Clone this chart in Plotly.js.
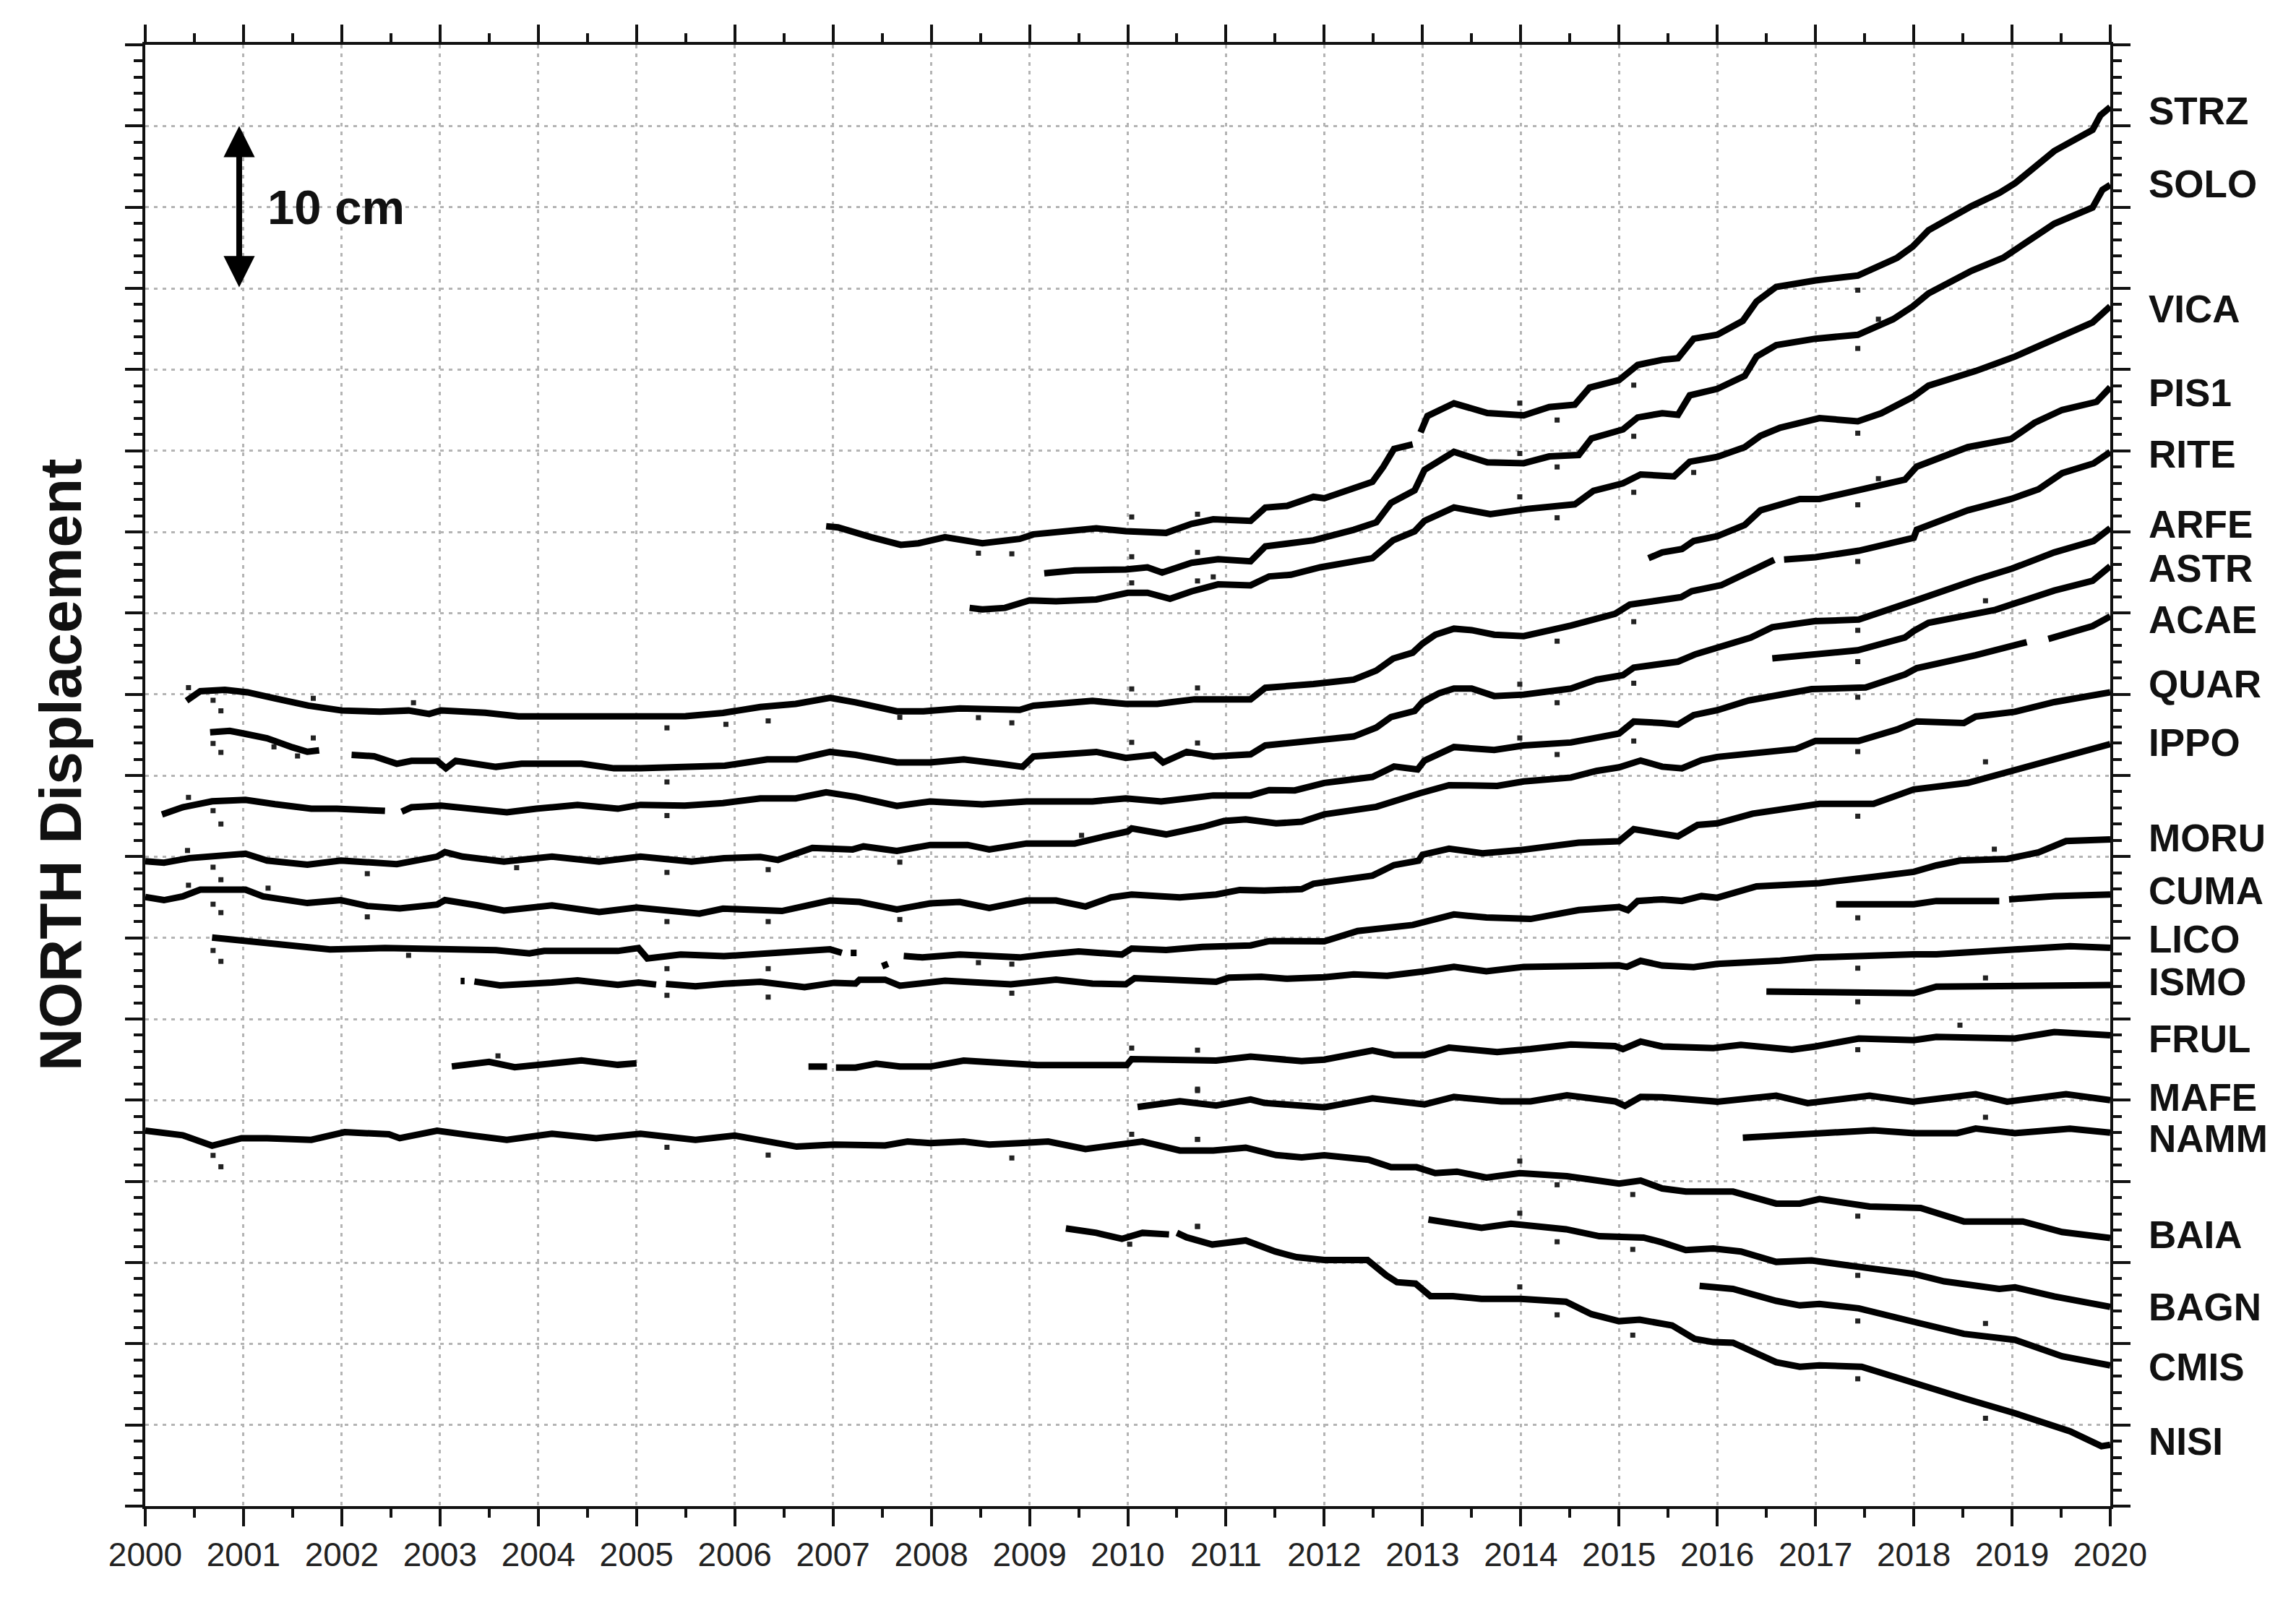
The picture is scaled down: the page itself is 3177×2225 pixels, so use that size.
<!DOCTYPE html>
<html>
<head>
<meta charset="utf-8">
<script src="https://cdn.plot.ly/plotly-3.0.1.min.js"></script>
<style>html,body{margin:0;padding:0;background:#fff}</style>
</head>
<body>
<div id="chart" style="width:3177px;height:2225px"></div>
<script>
// Every pair: [years since 2000, north displacement in cm, stacked offset as drawn]; null marks a data gap.
const STRZ=[[6.93,60.35],[7.05,60.28],[7.39,59.67],[7.69,59.2],[7.87,59.3],[7.95,59.39],[8.14,59.67],[8.52,59.3],[8.9,59.57],[9.04,59.85],[9.46,60.04],[9.68,60.22],[9.98,60.04],[10.39,59.94],[10.65,60.5],[10.87,60.78],[11.25,60.68],[11.4,61.5],[11.62,61.6],[11.89,62.16],[12,62.07],[12.49,63.08],[12.6,64],[12.71,65.11],[12.9,65.39],[12.94,null],[12.98,66.13],[13.05,67.14],[13.32,67.92],[13.66,67.32],[14.03,67.18],[14.29,67.69],[14.55,67.84],[14.7,68.89],[15,69.35],[15.19,70.28],[15.44,70.6],[15.6,70.7],[15.76,71.9],[16,72.14],[16.26,73],[16.4,74.19],[16.6,75.09],[17,75.49],[17.43,75.79],[17.83,76.88],[17.99,77.58],[18.15,78.58],[18.59,80.07],[18.87,80.87],[19.03,81.47],[19.43,83.46],[19.82,84.76],[19.9,85.66],[20,86.16]];
const SOLO=[[9.15,57.45],[9.46,57.63],[9.98,57.69],[10.2,57.82],[10.35,57.5],[10.65,58.1],[10.92,58.32],[11.25,58.19],[11.4,59.11],[11.89,59.48],[12.3,60.13],[12.53,60.59],[12.68,61.79],[12.92,62.56],[13.02,63.82],[13.32,64.93],[13.66,64.28],[14.03,64.23],[14.29,64.65],[14.59,64.74],[14.72,65.76],[15.04,66.31],[15.19,67.05],[15.44,67.31],[15.6,67.21],[15.72,68.41],[16,68.81],[16.28,69.61],[16.4,70.8],[16.6,71.5],[17,71.9],[17.43,72.14],[17.79,73.1],[17.99,73.89],[18.15,74.69],[18.59,76.09],[18.91,76.88],[19.11,77.68],[19.43,78.98],[19.82,79.98],[19.92,81.07],[20,81.37]];
const VICA=[[8.39,55.32],[8.52,55.23],[8.75,55.32],[9,55.78],[9.27,55.73],[9.68,55.84],[10,56.25],[10.2,56.25],[10.43,55.88],[10.65,56.34],[10.92,56.77],[11.25,56.71],[11.44,57.26],[11.66,57.36],[11.96,57.82],[12.49,58.38],[12.7,59.48],[12.92,60.04],[13.02,60.68],[13.32,61.51],[13.69,61.09],[14.07,61.42],[14.55,61.7],[14.74,62.53],[15.04,62.99],[15.22,63.54],[15.56,63.42],[15.72,64.32],[16,64.62],[16.28,65.22],[16.44,65.92],[16.64,66.42],[17.04,67.01],[17.43,66.81],[17.67,67.31],[17.99,68.31],[18.15,69.01],[18.63,69.91],[19.03,70.8],[19.43,71.9],[19.82,72.9],[20,73.89]];
const PIS1=[[15.3,58.38],[15.44,58.74],[15.64,58.94],[15.76,59.44],[16,59.74],[16.28,60.43],[16.44,61.33],[16.64,61.73],[16.84,62.03],[17.04,62.03],[17.43,62.53],[17.91,63.22],[18.03,64.02],[18.55,65.22],[18.99,65.72],[19.23,66.72],[19.51,67.51],[19.86,68.01],[20,68.91]];
const RITE=[[0.42,49.6],[0.56,50.19],[0.81,50.27],[1.04,50.12],[1.32,49.75],[1.66,49.3],[2,49],[2.39,48.93],[2.68,49],[2.89,48.79],[3.01,49],[3.46,48.86],[3.8,48.64],[4.27,48.64],[5,48.7],[5.5,48.65],[5.88,48.85],[6.26,49.22],[6.62,49.41],[6.97,49.78],[7.23,49.5],[7.65,48.95],[7.92,48.95],[8.29,49.13],[8.9,49.04],[9.04,49.3],[9.64,49.59],[9.98,49.41],[10.3,49.41],[10.68,49.69],[11.25,49.69],[11.4,50.4],[11.89,50.63],[12.3,50.9],[12.53,51.46],[12.7,52.2],[12.9,52.56],[13,53.12],[13.13,53.67],[13.32,54.04],[13.5,53.95],[13.73,53.67],[14.03,53.58],[14.51,54.23],[14.96,54.96],[15.11,55.52],[15.63,55.98],[15.74,56.35],[16.04,56.72],[16.34,57.64],[16.58,58.28],[16.62,null],[16.68,58.3],[17,58.44],[17.44,58.84],[18,59.64],[18.03,60.13],[18.55,61.33],[18.99,62.03],[19.27,62.63],[19.51,63.62],[19.83,64.22],[20,64.92]];
const ARFE=[[0.66,47.66],[0.86,47.75],[1.02,47.56],[1.24,47.29],[1.5,46.73],[1.65,46.46],[1.77,46.55],[1.9,null],[2.1,46.27],[2.33,46.18],[2.56,45.72],[2.71,45.9],[2.97,45.9],[3.06,45.44],[3.16,45.9],[3.57,45.53],[3.83,45.72],[4.44,45.72],[4.77,45.44],[5.04,45.44],[5.9,45.6],[6.33,45.99],[6.63,45.99],[6.97,46.45],[7.23,46.27],[7.65,45.8],[7.99,45.8],[8.33,45.99],[8.71,45.71],[8.93,45.53],[9.04,46.17],[9.46,46.36],[9.68,46.45],[9.98,46.08],[10.27,46.27],[10.36,45.8],[10.6,46.45],[10.87,46.17],[11.25,46.3],[11.4,46.85],[11.89,47.12],[12.3,47.4],[12.53,47.95],[12.68,48.6],[12.92,48.97],[13,49.52],[13.17,50.07],[13.32,50.35],[13.5,50.35],[13.73,49.89],[14.03,49.98],[14.51,50.35],[14.77,50.9],[15.04,51.18],[15.15,51.64],[15.6,52.01],[15.78,52.47],[16.04,52.93],[16.34,53.49],[16.56,54.13],[16.99,54.5],[17.44,54.6],[17.92,55.5],[18.03,55.8],[18.63,57.05],[19,57.74],[19.43,58.74],[19.83,59.44],[20,60.23]];
const ASTR=[[16.56,52.21],[17.43,52.71],[17.91,53.5],[18,53.9],[18.15,54.4],[18.83,55.2],[19.43,56.39],[19.82,56.99],[20,57.89]];
const ACAE=[[0.17,42.6],[0.38,43.04],[0.68,43.41],[1.02,43.5],[1.32,43.23],[1.69,42.95],[1.95,42.95],[2.44,42.82],[2.52,null],[2.61,42.77],[2.71,43.04],[3.01,43.14],[3.38,42.95],[3.68,42.73],[3.98,42.95],[4.4,43.19],[4.81,42.95],[5.04,43.19],[5.49,43.14],[5.88,43.3],[6.26,43.59],[6.62,43.59],[6.93,43.96],[7.23,43.68],[7.65,43.12],[7.99,43.4],[8.52,43.22],[8.97,43.4],[9.64,43.4],[9.98,43.59],[10.34,43.4],[10.87,43.77],[11.25,43.77],[11.44,44.1],[11.7,44.08],[12,44.54],[12.49,44.91],[12.71,45.55],[12.95,45.37],[13.02,45.92],[13.32,46.75],[13.73,46.57],[14.03,46.85],[14.51,47.03],[15,47.58],[15.11,48.04],[15.15,48.32],[15.44,48.23],[15.6,48.13],[15.76,48.72],[16,49.02],[16.32,49.62],[16.64,50.02],[16.96,50.32],[17.51,50.42],[17.91,51.22],[18.03,51.61],[18.63,52.41],[19.15,53.21],[19.26,null],[19.37,53.41],[19.82,54.2],[20,54.8]];
const QUAR=[[0,39.72],[0.19,39.63],[0.45,39.91],[1.02,40.18],[1.24,39.76],[1.65,39.5],[1.99,39.76],[2.56,39.54],[2.97,40],[3.05,40.28],[3.23,40],[3.65,39.69],[4.14,40],[4.62,39.69],[5.04,40],[5.56,39.69],[5.89,39.9],[6.26,39.98],[6.44,39.8],[6.79,40.54],[7.2,40.44],[7.31,40.63],[7.65,40.35],[7.99,40.72],[8.37,40.72],[8.59,40.44],[8.97,40.81],[9.46,40.81],[9.72,41.18],[10,41.55],[10.04,41.74],[10.39,41.37],[10.76,41.83],[10.98,42.2],[11.2,42.29],[11.51,42.05],[11.77,42.15],[12,42.6],[12.53,43.07],[12.71,43.43],[12.97,43.9],[13.27,44.4],[13.76,44.36],[14.03,44.63],[14.51,44.87],[14.77,45.28],[15,45.5],[15.22,45.92],[15.44,45.54],[15.64,45.44],[15.84,45.94],[16,46.14],[16.8,46.63],[17,47.13],[17.44,47.13],[17.83,47.83],[18.03,48.33],[18.51,48.23],[18.63,48.63],[19.03,48.92],[19.43,49.52],[20,50.12]];
const IPPO=[[0,37.51],[0.19,37.32],[0.38,37.55],[0.56,37.97],[1.02,37.97],[1.2,37.55],[1.65,37.14],[1.99,37.32],[2.26,36.96],[2.59,36.81],[2.97,37.05],[3.05,37.32],[3.38,37],[3.65,36.68],[4.14,37],[4.62,36.59],[5,36.86],[5.64,36.49],[5.88,36.8],[6.48,36.65],[6.97,37.3],[7.27,37.21],[7.65,36.75],[7.99,37.12],[8.29,37.21],[8.59,36.84],[8.97,37.3],[9.27,37.3],[9.57,36.93],[9.83,37.49],[10.04,37.67],[10.53,37.49],[10.9,37.67],[11.14,37.95],[11.39,37.91],[11.77,38],[11.89,38.33],[12.49,38.83],[12.71,39.48],[12.96,39.75],[13,40.12],[13.27,40.49],[13.61,40.21],[13.99,40.4],[14.59,40.86],[15,40.95],[15.15,41.69],[15.44,41.4],[15.6,41.25],[15.8,41.95],[16,42.05],[16.36,42.65],[17.04,43.25],[17.59,43.25],[18,44.14],[18.55,44.54],[18.91,45.14],[19.43,45.94],[20,46.93]];
const MORU=[[0.68,35.02],[1.13,34.74],[1.65,34.46],[1.88,34.28],[2.44,34.37],[2.97,34.28],[3.57,34.24],[3.91,34.04],[4.06,34.19],[4.81,34.19],[5.02,34.37],[5.11,33.73],[5.45,33.97],[5.89,33.87],[6.22,33.97],[6.56,34.16],[6.97,34.29],[7.09,34.07],[7.14,null],[7.18,34.07],[7.24,34.07],[7.3,null],[7.5,33.25],[7.56,33.4],[7.62,null],[7.72,33.88],[7.91,33.79],[8.29,33.97],[8.9,33.79],[9.16,33.97],[9.5,34.16],[9.94,33.97],[10.04,34.34],[10.39,34.25],[10.76,34.44],[11.25,34.53],[11.44,34.8],[12,34.78],[12.34,35.42],[12.9,35.79],[13.32,36.44],[13.65,36.25],[14.03,36.25],[14.1,36.16],[14.59,36.71],[15,36.9],[15.09,36.71],[15.19,37.27],[15.44,37.37],[15.64,37.27],[15.84,37.57],[16,37.47],[16.4,38.17],[17.04,38.37],[17.59,38.76],[18,39.06],[18.23,39.46],[18.47,39.76],[18.95,39.86],[19.27,40.26],[19.55,40.96],[20,41.06]];
const CUMA=[[17.21,37.07],[18,37.07],[18.23,37.27],[18.87,37.27],[18.92,null],[18.97,37.37],[19.43,37.57],[20,37.67]];
const LICO=[[3.21,32.34],[3.25,32.34],[3.29,null],[3.35,32.31],[3.61,32.07],[4.14,32.25],[4.4,32.38],[4.81,32.1],[5.02,32.25],[5.2,32.12],[5.25,null],[5.3,32.16],[5.6,32.01],[5.89,32.17],[6.26,32.29],[6.71,31.96],[7.01,32.23],[7.23,32.18],[7.27,32.42],[7.53,32.42],[7.68,32.05],[8.14,32.36],[8.52,32.29],[8.81,32.14],[9.27,32.42],[9.64,32.18],[9.98,32.14],[10.07,32.51],[10.45,32.42],[10.9,32.29],[11.03,32.55],[11.36,32.6],[11.62,32.48],[12,32.57],[12.3,32.75],[12.64,32.66],[13.02,32.94],[13.32,33.21],[13.65,32.94],[14.03,33.21],[15,33.3],[15.08,33.21],[15.22,33.58],[15.44,33.29],[15.76,33.19],[16,33.39],[16.64,33.59],[17,33.79],[18,33.98],[18.23,33.98],[19.03,34.28],[19.59,34.48],[20,34.38]];
const ISMO=[[16.5,31.69],[17.44,31.69],[18,31.59],[18.23,31.99],[19.03,31.99],[19.59,32.09],[20,32.09]];
const FRUL=[[3.12,27.08],[3.5,27.36],[3.76,27.03],[4.06,27.18],[4.44,27.45],[4.81,27.18],[5,27.27],[5.05,null],[6.75,27.07],[6.94,27.07],[6.98,null],[7.03,27.01],[7.23,27.01],[7.36,27.16],[7.44,27.25],[7.68,27.07],[7.99,27.07],[8.33,27.44],[8.9,27.25],[9.08,27.16],[9.64,27.16],[9.99,27.16],[10.04,27.53],[10.57,27.53],[10.9,27.44],[11.25,27.68],[11.39,27.6],[11.77,27.41],[12,27.5],[12.49,28.06],[12.71,27.78],[13.02,27.78],[13.27,28.24],[13.76,27.97],[14.1,28.15],[14.51,28.43],[14.96,28.33],[15.04,28.15],[15.22,28.61],[15.44,28.31],[15.96,28.21],[16.24,28.41],[16.76,28.11],[17,28.31],[17.44,28.8],[18,28.7],[18.23,28.9],[19.03,28.8],[19.43,29.2],[20,29]];
const MAFE=[[10.1,24.58],[10.53,24.94],[10.9,24.67],[11.25,25.04],[11.39,24.83],[12,24.56],[12.49,25.11],[13.02,24.74],[13.32,25.2],[13.8,24.93],[14.1,24.93],[14.47,25.3],[14.96,24.93],[15.06,24.65],[15.22,25.2],[15.44,25.18],[16,24.91],[16.6,25.28],[16.92,24.82],[17.55,25.28],[17.99,24.91],[18.63,25.37],[18.95,24.91],[19.55,25.37],[20,25]];
const NAMM=[[16.26,22.69],[16.84,22.88],[17.59,23.15],[18,22.97],[18.44,22.97],[18.63,23.25],[19.03,22.97],[19.59,23.25],[20,23]];
const BAIA=[[0,23.12],[0.38,22.84],[0.68,22.2],[0.98,22.66],[1.24,22.66],[1.69,22.56],[2.03,23.03],[2.48,22.9],[2.59,22.66],[2.97,23.12],[3.31,22.84],[3.68,22.56],[4.14,22.93],[4.59,22.66],[5.04,22.93],[5.6,22.56],[6,22.82],[6.26,22.55],[6.63,22.14],[7.01,22.27],[7.53,22.21],[7.76,22.45],[7.99,22.36],[8.33,22.45],[8.59,22.27],[8.9,22.36],[9.19,22.45],[9.57,21.99],[10,22.27],[10.15,22.45],[10.53,21.9],[10.87,21.9],[11.2,22.08],[11.51,21.62],[11.77,21.48],[12,21.61],[12.45,21.33],[12.68,20.87],[12.94,20.87],[13.13,20.51],[13.35,20.6],[13.65,20.23],[13.99,20.51],[14.47,20.32],[15,19.87],[15.22,20.05],[15.44,19.56],[15.68,19.37],[16.16,19.37],[16.6,18.63],[16.84,18.63],[17.04,18.91],[17.55,18.45],[18.07,18.36],[18.51,17.53],[19.11,17.53],[19.51,16.88],[20,16.51]];
const BAGN=[[13.06,17.65],[13.6,17.14],[13.9,17.39],[14.46,17.05],[14.8,16.62],[15.13,16.54],[15.25,16.54],[15.44,16.24],[15.68,15.77],[15.96,15.87],[16.24,15.68],[16.6,15.04],[16.96,15.13],[17.52,14.67],[18,14.3],[18.31,13.84],[18.87,13.38],[19.03,13.47],[19.43,12.91],[20,12.27]];
const CMIS=[[15.82,13.56],[16.16,13.38],[16.6,12.64],[16.84,12.36],[17.04,12.45],[17.44,12.18],[18,11.35],[18.51,10.61],[19.03,10.24],[19.51,9.23],[20,8.67]];
const NISI=[[9.37,17.1],[9.68,16.83],[9.94,16.46],[10.15,16.83],[10.42,16.73],[10.46,null],[10.5,16.83],[10.6,16.55],[10.86,16.11],[11.2,16.36],[11.5,15.68],[11.72,15.33],[12,15.16],[12.44,15.16],[12.63,14.22],[12.74,13.79],[12.93,13.7],[13.08,12.93],[13.31,12.93],[13.6,12.76],[14,12.76],[14.46,12.59],[14.72,11.82],[15,11.39],[15.21,11.48],[15.54,11.13],[15.77,10.3],[15.96,10.1],[16.16,10.06],[16.6,8.86],[16.84,8.58],[17.04,8.67],[17.47,8.58],[18,7.56],[18.51,6.64],[19.03,5.72],[19.59,4.61],[19.91,3.69],[20,3.78]];

// Isolated outlying daily solutions, read one by one.
const outliers=[[0.44,50.41],[0.69,49.63],[0.77,48.98],[1.71,49.75],[2.73,49.48],[0.69,46.97],[0.77,46.42],[1.71,47.31],[1.31,46.76],[1.55,46.2],[0.44,43.65],[0.69,42.83],[0.77,42.01],[0.43,40.38],[0.69,39.35],[0.77,38.58],[2.26,38.95],[3.78,39.32],[0.44,38.24],[0.69,37.07],[0.77,36.55],[2.26,36.29],[1.25,38.06],[0.69,34.22],[0.77,33.55],[2.68,33.92],[5.31,47.93],[5.31,44.6],[5.31,42.53],[5.31,39.03],[5.31,36],[5.31,33.1],[5.31,31.46],[5.31,22.1],[0.77,20.9],[0.69,21.6],[3.59,27.73],[6.34,48.36],[5.91,48.15],[7.68,48.58],[8.48,48.56],[8.82,48.24],[8.48,58.69],[8.82,58.65],[10.04,60.92],[10.71,61.09],[10.71,58.74],[10.04,58.47],[10.04,56.86],[10.71,56.98],[10.87,57.23],[10.04,50.33],[10.71,50.39],[10.04,47.04],[10.71,47],[6.34,39.2],[7.68,39.66],[6.34,36],[7.68,36.13],[9.53,41.31],[6.34,33.1],[8.48,33.47],[8.82,33.38],[13.99,67.93],[14.37,66.89],[15.15,69.04],[15.15,65.89],[13.99,64.83],[14.37,64],[15.15,62.44],[14.37,60.87],[13.99,62.16],[14.37,53.27],[15.15,54.47],[14.37,49.48],[15.15,50.68],[13.99,50.62],[14.37,46.29],[15.15,47.12],[13.99,47.31],[17.43,74.89],[17.43,71.3],[17.43,66.08],[17.43,61.67],[17.43,58.18],[17.64,73.1],[17.64,63.28],[15.76,63.66],[17.43,53.94],[17.43,52.01],[17.43,49.82],[17.43,46.47],[17.43,42.49],[18.73,55.76],[18.73,45.84],[17.43,36.23],[17.43,33.13],[17.43,31.06],[18.73,32.53],[18.47,29.62],[17.43,28.11],[18.82,40.46],[18.73,23.95],[17.43,17.86],[17.43,14.21],[17.43,11.4],[17.43,7.84],[18.73,11.25],[18.73,5.41],[6.34,31.35],[8.82,31.59],[6.34,21.62],[8.82,21.44],[10.71,25.59],[10.71,28.08],[10.71,22.58],[10.04,28.21],[10.04,22.9],[10.02,16.13],[10.71,17.23],[14.37,11.78],[14.37,16.28],[14.37,19.79],[15.14,19.19],[15.14,15.81],[15.14,10.53],[10.71,17.22],[10.71,22.59],[10.71,25.68],[13.99,21.25],[13.99,18.04],[13.99,13.5]];

const stationNames=["STRZ","SOLO","VICA","PIS1","RITE","ARFE","ASTR","ACAE","QUAR","IPPO","MORU","CUMA","LICO","ISMO","FRUL","MAFE","NAMM","BAIA","BAGN","CMIS","NISI"];
const stationSeries=[STRZ,SOLO,VICA,PIS1,RITE,ARFE,ASTR,ACAE,QUAR,IPPO,MORU,CUMA,LICO,ISMO,FRUL,MAFE,NAMM,BAIA,BAGN,CMIS,NISI];
const stationLabelY=[85.92,81.41,73.74,68.59,64.8,60.47,57.76,54.6,50.63,47.02,41.16,37.91,34.93,32.31,28.79,25.18,22.65,16.7,12.27,8.57,3.97];
const yearTicks=[2000,2001,2002,2003,2004,2005,2006,2007,2008,2009,2010,2011,2012,2013,2014,2015,2016,2017,2018,2019,2020];

const traces=stationSeries.map((s,i)=>({
  type:'scatter',mode:'lines',name:stationNames[i],
  x:s.map(p=>2000+p[0]),y:s.map(p=>p[1]),
  line:{color:'#000',width:9,shape:'linear'},connectgaps:false,hoverinfo:'skip',showlegend:false
}));
traces.push({type:'scatter',mode:'markers',name:'outliers',
  x:outliers.map(p=>2000+p[0]),y:outliers.map(p=>p[1]),
  marker:{color:'#222',size:7,symbol:'square'},hoverinfo:'skip',showlegend:false});

const font='"Liberation Sans",Arial,sans-serif';
const gridDash='5px,7px';
const annotations=stationNames.map((n,i)=>({
  text:'<b>'+n+'</b>',xref:'paper',yref:'y',x:1.0187,y:stationLabelY[i],xanchor:'left',yanchor:'middle',
  showarrow:false,font:{family:font,size:53,color:'#111'}
}));
annotations.push({text:'<b>10 cm</b>',xref:'x',yref:'y',x:2001.23,y:80,xanchor:'left',yanchor:'middle',showarrow:false,font:{family:font,size:67,color:'#111'}});
annotations.push({text:'',xref:'x',yref:'y',axref:'x',ayref:'y',x:2000.956,y:85,ax:2000.956,ay:75,showarrow:true,arrowhead:2,arrowside:'end+start',arrowsize:1.08,arrowwidth:8,arrowcolor:'#000',standoff:0,startstandoff:0});
annotations.push({text:'<b>NORTH Displacement</b>',xref:'paper',yref:'paper',x:-0.0434,y:0.5074,xanchor:'center',yanchor:'middle',textangle:-90,showarrow:false,font:{family:font,size:82,color:'#111'}});

const axisCommon={showline:true,linecolor:'#111',linewidth:4,mirror:'allticks',ticks:'outside',ticklen:24,tickwidth:4,tickcolor:'#111',
  showgrid:true,gridcolor:'#b4b4b4',gridwidth:3,griddash:gridDash,zeroline:false};

Plotly.newPlot('chart',traces,{
  width:3177,height:2225,paper_bgcolor:'#fff',plot_bgcolor:'#fff',showlegend:false,
  margin:{l:201,r:257,t:62,b:141,pad:0},
  xaxis:Object.assign({},axisCommon,{range:[2000,2020],tickmode:'array',tickvals:yearTicks,ticktext:yearTicks.map(String),
    tickfont:{family:font,size:46,color:'#222'},
    minor:{dtick:0.5,tick0:2000,ticks:'outside',ticklen:12,tickwidth:4,tickcolor:'#111',showgrid:false}}),
  yaxis:Object.assign({},axisCommon,{range:[0,90],tick0:0,dtick:5,showticklabels:false,
    minor:{dtick:1,tick0:0,ticks:'outside',ticklen:12,tickwidth:4,tickcolor:'#111',showgrid:false}}),
  annotations:annotations
},{staticPlot:true,displayModeBar:false});
</script>
</body>
</html>
